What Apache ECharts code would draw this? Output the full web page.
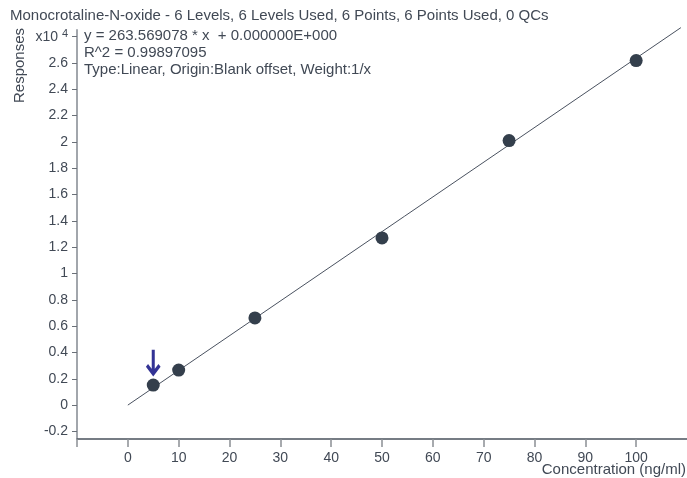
<!DOCTYPE html>
<html>
<head>
<meta charset="utf-8">
<script src="https://cdn.jsdelivr.net/npm/echarts@6/dist/echarts.min.js"></script>
<style>
html,body{margin:0;padding:0;background:#fff;}
#c{width:687px;height:478px;}
</style>
</head>
<body>
<div id="c"></div>
<script>
// Data (responses in units of 10^4)
var concentrations = [5, 10, 25, 50, 75, 100];
var responses = [0.152, 0.266, 0.662, 1.270, 2.010, 2.618];
var fitLineX = [0, 108.8];
var fitLineY = [0, 2.868];
var markerX = [5];
var markerY = [0.33];
var xTickValues = [-10, 0, 10, 20, 30, 40, 50, 60, 70, 80, 90, 100];
var xLabelValues = [0, 10, 20, 30, 40, 50, 60, 70, 80, 90, 100];
var yTickValues = [-0.2, 0, 0.2, 0.4, 0.6, 0.8, 1, 1.2, 1.4, 1.6, 1.8, 2, 2.2, 2.4, 2.6, 2.8];
var titleText = 'Monocrotaline-N-oxide - 6 Levels, 6 Levels Used, 6 Points, 6 Points Used, 0 QCs';
var equationLines = ['y = 263.569078 * x  + 0.000000E+000', 'R^2 = 0.99897095', 'Type:Linear, Origin:Blank offset, Weight:1/x'];
var xAxisName = 'Concentration (ng/ml)';
var yAxisName = 'Responses';

var txt = '#414955';
var font = 'Liberation Sans, Arial, sans-serif';

var chart = echarts.init(document.getElementById('c'), null, {renderer: 'canvas'});
chart.setOption({
  backgroundColor: '#fff',
  animation: false,
  textStyle: {fontFamily: font},
  title: [
    {text: titleText, left: 10, top: 8, padding: 0, textStyle: {fontSize: 15, fontWeight: 'normal', color: txt, fontFamily: font}},
    {text: equationLines.join('\n'), left: 84, top: 27, padding: 0, textStyle: {fontSize: 15, fontWeight: 'normal', color: txt, lineHeight: 17, fontFamily: font}}
  ],
  graphic: [
    {type: 'text', right: 1, top: 462, style: {text: xAxisName, fill: txt, font: '15px ' + font}},
    {type: 'text', x: 12, y: 103, rotation: Math.PI / 2, style: {text: yAxisName, fill: txt, font: '15px ' + font, textAlign: 'left', textVerticalAlign: 'top'}}
  ],
  grid: {left: 77, top: 30, width: 611, height: 408, containLabel: false},
  xAxis: {
    type: 'value', min: -10, max: 110, offset: 1,
    splitLine: {show: false},
    axisLine: {show: true, onZero: false, lineStyle: {color: '#4a525c', width: 1.5}},
    axisTick: {show: true, length: 8, lineStyle: {color: '#8a8e94', width: 1.5}, customValues: xTickValues},
    axisLabel: {show: true, color: txt, fontSize: 14, margin: 12, customValues: xLabelValues, fontFamily: font}
  },
  yAxis: {
    type: 'value', min: -0.25, max: 2.85,
    splitLine: {show: false},
    axisLine: {show: true, onZero: false, lineStyle: {color: '#a2a6ac', width: 2}},
    axisTick: {show: true, length: 5, lineStyle: {color: '#6a7078', width: 1}, customValues: yTickValues},
    axisLabel: {
      show: true, color: txt, fontSize: 14, margin: 9, customValues: yTickValues, fontFamily: font,
      formatter: function (v) {
        if (Math.abs(v - 2.8) < 1e-6) return '{a|x10 }{b|4}';
        return String(Math.round(v * 10) / 10);
      },
      rich: {
        a: {fontSize: 14, color: txt, fontFamily: font, verticalAlign: 'bottom', lineHeight: 16},
        b: {fontSize: 11, color: txt, fontFamily: font, verticalAlign: 'top', lineHeight: 16, padding: [0, 0, 6, 0]}
      }
    }
  },
  series: [
    {
      type: 'line', data: fitLineX.map(function (x, i) { return [x, fitLineY[i]]; }),
      showSymbol: false, symbol: 'none', clip: false,
      lineStyle: {color: '#4a5260', width: 1}, z: 2
    },
    {
      type: 'scatter', data: concentrations.map(function (x, i) { return [x, responses[i]]; }),
      symbol: 'circle', symbolSize: 13,
      itemStyle: {color: '#343f4c', opacity: 1}, z: 3
    },
    {
      type: 'scatter', data: markerX.map(function (x, i) { return [x, markerY[i]]; }),
      symbol: 'path://M9,0 L9,23 M1,15 L9,23 L17,15', symbolSize: [18, 24], symbolKeepAspect: true,
      itemStyle: {color: 'rgba(0,0,0,0)', borderColor: '#00007a', borderWidth: 3.5}, z: 4
    }
  ]
});
</script>
</body>
</html>
